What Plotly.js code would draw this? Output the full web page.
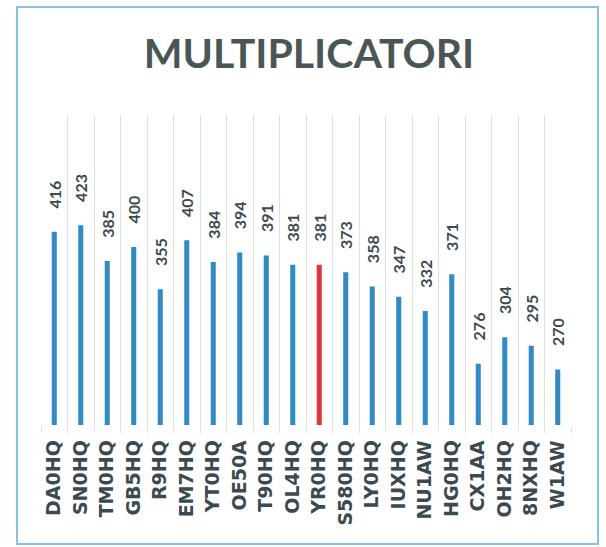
<!DOCTYPE html>
<html>
<head>
<meta charset="utf-8">
<script src="https://cdn.plot.ly/plotly-3.0.1.min.js"></script>
<style>
  html, body { margin: 0; padding: 0; background: #ffffff; }
  #chart { position: absolute; left: 0; top: 0; width: 606px; height: 547px; }
  #frame { position: absolute; left: 16px; top: 6px; width: 579px; height: 535px;
           border: 2px solid #86c2e8; pointer-events: none; }
</style>
</head>
<body>
<div id="chart"></div>
<div id="frame"></div>
<script>
const categories = ["DA0HQ","SN0HQ","TM0HQ","GB5HQ","R9HQ","EM7HQ","YT0HQ","OE50A","T90HQ","OL4HQ",
                    "YR0HQ","S580HQ","LY0HQ","IUXHQ","NU1AW","HG0HQ","CX1AA","OH2HQ","8NXHQ","W1AW"];
const values = [416,423,385,400,355,407,384,394,391,381,381,373,358,347,332,371,276,304,295,270];
const highlight = "YR0HQ";

const blue = "#2f8bc7";
const red = "#e2343b";
const textColor = "#3b4a4f";

const colors = categories.map(c => c === highlight ? red : blue);
// leading no-break spaces keep the rotated value labels a little above the bar tops
const labels = values.map(v => "\u00a0\u00a0\u00a0\u00a0\u00a0\u00a0" + String(v));
// trailing spaces push the rotated category labels a little below the axis
const tickText = categories.map(c => c + "\u00a0\u2009");

const trace = {
  type: "bar",
  x: categories,
  y: values,
  marker: { color: colors },
  text: labels,
  texttemplate: "%{text}",
  textposition: "outside",
  textangle: -90,
  constraintext: "none",
  cliponaxis: false,
  textfont: { family: "Lato", size: 16, color: textColor, weight: 700 },
  hoverinfo: "x+y"
};

const layout = {
  width: 606, height: 547,
  margin: { l: 41, r: 35, t: 115, b: 122 },
  paper_bgcolor: "#ffffff",
  plot_bgcolor: "#ffffff",
  showlegend: false,
  bargap: 0.81,
  title: {
    text: "MULTIPLICATORI",
    x: 0.51, xanchor: "center",
    y: 1 - 54 / 547, yref: "container", yanchor: "middle",
    font: { family: "Lato", size: 41, color: "#4a5656", weight: 700 }
  },
  xaxis: {
    type: "category",
    tickson: "boundaries",
    tickmode: "array",
    tickvals: categories,
    ticktext: tickText,
    showgrid: true,
    gridcolor: "#dfdfdf",
    gridwidth: 1,
    ticks: "outside",
    ticklen: 7,
    tickcolor: "#dfdfdf",
    tickangle: -90,
    showline: false,
    zeroline: false,
    tickfont: { family: "DejaVu Sans", size: 19, color: textColor, weight: 700 }
  },
  yaxis: {
    range: [211, 540],
    showgrid: false,
    zeroline: false,
    showticklabels: false,
    ticks: "",
    showline: false
  }
};

Plotly.newPlot("chart", [trace], layout, { displayModeBar: false, staticPlot: true });
</script>
</body>
</html>
